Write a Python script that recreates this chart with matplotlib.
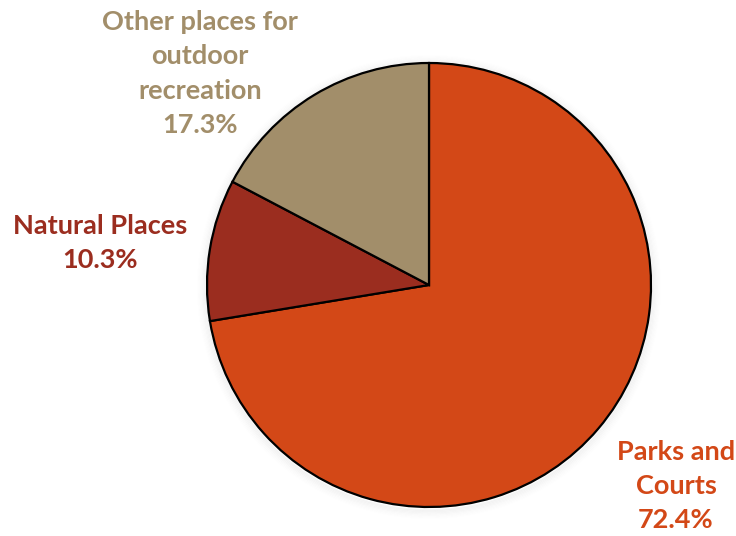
import matplotlib
matplotlib.use("Agg")
import matplotlib.pyplot as plt
from matplotlib.patches import Circle

labels = ["Parks and\nCourts", "Natural Places", "Other places for\noutdoor\nrecreation"]
values = [72.4, 10.3, 17.3]
colors = ["#D34817", "#9B2D1F", "#A28E6A"]

W, H = 736, 536
fig = plt.figure(figsize=(W / 100, H / 100), dpi=100)
ax = fig.add_axes([0, 0, 1, 1])
ax.set_xlim(0, W)
ax.set_ylim(0, H)
ax.set_aspect("equal")
ax.axis("off")

cx, cy, r = 429, H - 285, 222

# soft shadow
for i in range(8):
    ax.add_patch(Circle((cx, cy - 2), r + 1 + i * 1.2, facecolor="none",
                        edgecolor="black", lw=1.2, alpha=0.035 * (8 - i) / 8, zorder=1))

ax.pie(values, colors=colors, startangle=90, counterclock=False,
       center=(cx, cy), radius=r, frame=True,
       wedgeprops=dict(edgecolor="black", linewidth=1.6, zorder=2))
ax.set_xlim(0, W)
ax.set_ylim(0, H)
ax.axis("off")

font = dict(family="Lato", fontweight="bold", fontsize=19.5, ha="center",
            va="center", linespacing=1.52)
positions = [(676, H - 486), (100, H - 243), (200, H - 73.5)]
for lab, v, c, (x, y) in zip(labels, values, colors, positions):
    ax.text(x, y, f"{lab}\n{v:.1f}%", color=c, **font)

fig.savefig("out.png", dpi=100)
